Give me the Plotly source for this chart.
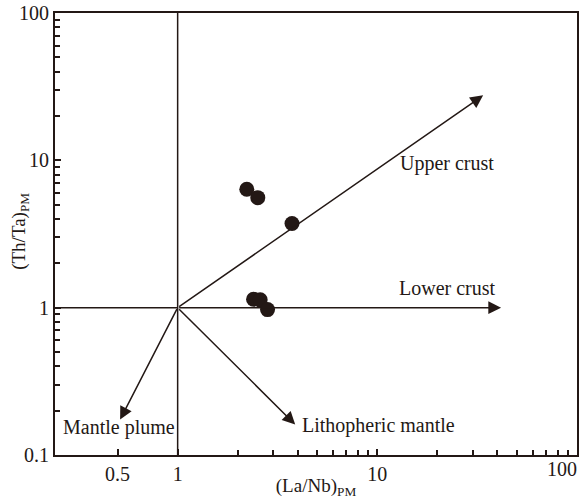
import numpy as np
import plotly.graph_objects as go

# Sample data (primitive-mantle normalised ratios)
la_nb = [2.22, 2.52, 3.74, 2.40, 2.59, 2.82]
th_ta = [6.36, 5.58, 3.73, 1.14, 1.13, 0.97]

# Reference point where vectors originate
origin_x = 1.0
origin_y = 1.0

# Vector tips (La/Nb, Th/Ta) and labels
vec_names = ["Upper crust", "Lower crust", "Mantle plume", "Lithopheric mantle"]
vec_tip_x = [33.9, 41.7, 0.515, 3.88]
vec_tip_y = [27.6, 1.0, 0.174, 0.161]
label_x = [22.4, 22.4, 0.509, 4.11]
label_y = [9.5, 1.37, 0.153, 0.158]
label_anchor = ["center", "center", "center", "left"]

x_ticks = [0.5, 1, 10]
x_edge_tick = [100]
y_ticks = [0.1, 1, 10, 100]
x_range = [0.243, 100.1]
y_range = [0.1, 100]

INK = "#231815"
FONT = "Liberation Serif"
FS = 20

fig = go.Figure()

# Reference lines through (1,1)
fig.add_trace(go.Scatter(x=[origin_x, origin_x], y=y_range, mode="lines",
                         line=dict(color=INK, width=1.5), hoverinfo="skip", showlegend=False))
fig.add_trace(go.Scatter(x=[x_range[0], origin_x], y=[origin_y, origin_y], mode="lines",
                         line=dict(color=INK, width=1.5), hoverinfo="skip", showlegend=False))

# Samples
fig.add_trace(go.Scatter(x=la_nb, y=th_ta, mode="markers",
                         marker=dict(size=15, color=INK, line=dict(width=0)),
                         showlegend=False))

# placeholder trace so the overlaid edge axis is rendered
fig.add_trace(go.Scatter(x=[], y=[], xaxis="x2", yaxis="y", showlegend=False,
                         hoverinfo="skip"))

annotations = []
for tx, ty in zip(vec_tip_x, vec_tip_y):
    annotations.append(dict(
        x=np.log10(tx), y=np.log10(ty), xref="x", yref="y",
        ax=np.log10(origin_x), ay=np.log10(origin_y), axref="x", ayref="y",
        text="", showarrow=True, arrowhead=2, arrowsize=1.7, arrowwidth=1.5,
        arrowcolor=INK, standoff=0, startstandoff=0))
for name, lx, ly, anc in zip(vec_names, label_x, label_y, label_anchor):
    annotations.append(dict(
        x=np.log10(lx), y=np.log10(ly), xref="x", yref="y", text=name,
        showarrow=False, xanchor=anc, yanchor="middle",
        font=dict(family=FONT, size=FS, color=INK)))

annotations.append(dict(
    x=-0.067, y=0.505, xref="paper", yref="paper", text="(Th/Ta)<sub>PM</sub>",
    showarrow=False, textangle=-90, xanchor="center", yanchor="middle",
    font=dict(family=FONT, size=FS - 1, color=INK)))

x_minor = [m * d for d in (1, 10) for m in range(2, 10)]
y_minor = [m * d for d in (0.1, 1, 10) for m in range(2, 10)]

xr = [np.log10(x_range[0]), np.log10(x_range[1])]

fig.update_layout(
    width=582, height=499,
    margin=dict(l=55, r=5, t=13, b=44, autoexpand=False),
    paper_bgcolor="white", plot_bgcolor="white",
    font=dict(family=FONT, size=FS, color=INK),
    annotations=annotations,
    xaxis=dict(type="log", range=xr,
               tickmode="array", tickvals=x_ticks, ticktext=[str(v) for v in x_ticks],
               automargin=False,
               ticks="inside", ticklen=6, tickwidth=1.5, tickcolor=INK,
               tickfont=dict(family=FONT, size=FS, color=INK),
               minor=dict(tickmode="array", tickvals=x_minor, ticks="inside", ticklen=5,
                          tickwidth=1.5, tickcolor=INK, showgrid=False),
               showline=True, mirror=True, linecolor=INK, linewidth=2,
               showgrid=False, zeroline=False,
               title=dict(text="(La/Nb)<sub>PM</sub>", standoff=2,
                          font=dict(family=FONT, size=FS - 1, color=INK))),
    xaxis2=dict(type="log", range=xr, overlaying="x", anchor="y", side="bottom",
                tickmode="array", tickvals=x_edge_tick, ticktext=[str(v) for v in x_edge_tick],
                ticklabelposition="outside left", automargin=False,
                ticks="", showline=False, showgrid=False, zeroline=False,
                tickfont=dict(family=FONT, size=FS, color=INK)),
    yaxis=dict(type="log", range=[np.log10(y_range[0]), np.log10(y_range[1])],
               tickmode="array", tickvals=y_ticks, ticktext=[str(v) for v in y_ticks],
               automargin=False,
               ticks="inside", ticklen=6, tickwidth=1.5, tickcolor=INK,
               tickfont=dict(family=FONT, size=FS, color=INK),
               minor=dict(tickmode="array", tickvals=y_minor, ticks="inside", ticklen=5,
                          tickwidth=1.5, tickcolor=INK, showgrid=False),
               showline=True, mirror=True, linecolor=INK, linewidth=2,
               showgrid=False, zeroline=False),
)

fig.write_html("out.html")
